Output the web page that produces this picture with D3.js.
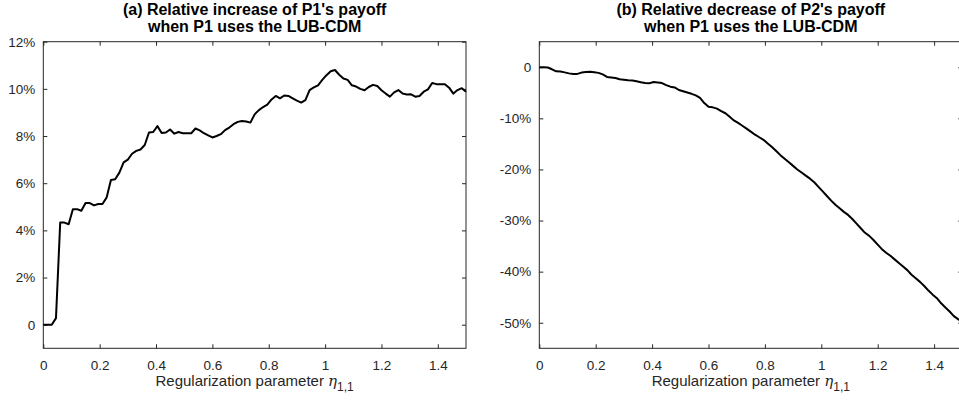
<!DOCTYPE html>
<html>
<head>
<meta charset="utf-8">
<script src="https://cdn.jsdelivr.net/npm/d3@7"></script>
<style>
  body { margin: 0; background: #fff; }
  svg { display: block; font-family: "Liberation Sans", Arial, sans-serif; }
  .tick text { fill: #262626; }
</style>
</head>
<body>
<div id="chart"></div>
<script>
// regularization parameter grid (eta_1,1)
const etaValues = [
  0.000, 0.015, 0.030, 0.045, 0.060, 0.075, 0.090, 0.105, 0.120, 0.135,
  0.150, 0.165, 0.180, 0.195, 0.210, 0.225, 0.240, 0.255, 0.270, 0.285,
  0.300, 0.315, 0.330, 0.345, 0.360, 0.375, 0.390, 0.405, 0.420, 0.435,
  0.450, 0.465, 0.480, 0.495, 0.510, 0.525, 0.540, 0.555, 0.570, 0.585,
  0.600, 0.615, 0.630, 0.645, 0.660, 0.675, 0.690, 0.705, 0.720, 0.735,
  0.750, 0.765, 0.780, 0.795, 0.810, 0.825, 0.840, 0.855, 0.870, 0.885,
  0.900, 0.915, 0.930, 0.945, 0.960, 0.975, 0.990, 1.005, 1.020, 1.035,
  1.050, 1.065, 1.080, 1.095, 1.110, 1.125, 1.140, 1.155, 1.170, 1.185,
  1.200, 1.215, 1.230, 1.245, 1.260, 1.275, 1.290, 1.305, 1.320, 1.335,
  1.350, 1.365, 1.380, 1.395, 1.410, 1.425, 1.440, 1.455, 1.470, 1.485,
  1.500
]

// (a) relative increase of P1's payoff, in %
const p1Increase = [
  0, 0, 0, 0.28, 4.33, 4.33, 4.26, 4.9, 4.9, 4.83,
  5.16, 5.16, 5.06, 5.12, 5.12, 5.4, 6.14, 6.17, 6.45, 6.88,
  7.0, 7.25, 7.37, 7.43, 7.62, 8.15, 8.17, 8.42, 8.13, 8.15,
  8.28, 8.1, 8.17, 8.12, 8.12, 8.12, 8.32, 8.24, 8.12, 8.03,
  7.94, 8.0, 8.08, 8.25, 8.36, 8.5, 8.6, 8.64, 8.62, 8.57,
  8.92, 9.1, 9.23, 9.33, 9.55, 9.7, 9.6, 9.72, 9.7, 9.6,
  9.5, 9.42, 9.52, 9.95, 10.06, 10.15, 10.38, 10.58, 10.75, 10.8,
  10.6, 10.44, 10.38, 10.15, 10.1, 10.0, 9.94, 10.08, 10.17, 10.12,
  9.94, 9.8, 9.67, 9.85, 9.95, 9.8, 9.76, 9.77, 9.67, 9.7,
  9.88, 9.98, 10.25, 10.2, 10.2, 10.2, 10.05, 9.8, 9.95, 10.03,
  9.88
]

// (b) relative decrease of P2's payoff, in %
const p2Decrease = [
  0, 0, -0.05, -0.4, -0.8, -0.85, -1.0, -1.2, -1.3, -1.3,
  -1.05, -0.95, -0.9, -1.0, -1.1, -1.4, -1.9, -2.0, -2.1, -2.35,
  -2.45, -2.55, -2.6, -2.75, -2.95, -3.1, -3.15, -2.9, -3.0, -3.1,
  -3.5, -3.8, -3.95, -4.45, -4.7, -4.95, -5.2, -5.5, -6.0, -7.0,
  -7.75, -7.85, -8.1, -8.6, -9.0, -9.7, -10.4, -10.9, -11.45, -12.0,
  -12.6, -13.2, -13.7, -14.2, -14.9, -15.6, -16.4, -17.2, -17.9, -18.6,
  -19.3, -20.0, -20.6, -21.2, -21.8, -22.5, -23.4, -24.3, -25.2, -26.1,
  -26.9, -27.6, -28.3, -28.9, -29.7, -30.6, -31.5, -32.4, -33.0, -33.8,
  -34.7, -35.6, -36.3, -36.9, -37.6, -38.3, -39.0, -39.7, -40.6, -41.3,
  -42.0, -42.8, -43.7, -44.5, -45.2, -46.2, -47.0, -47.8, -48.7, -49.3,
  -49.8
]

const xTicks = [0, 0.2, 0.4, 0.6, 0.8, 1, 1.2, 1.4]
const p1Ticks = [0, 2, 4, 6, 8, 10, 12]
const p2Ticks = [-50, -40, -30, -20, -10, 0]

const titlesA = ["(a) Relative increase of P1's payoff", "when P1 uses the LUB-CDM"]
const titlesB = ["(b) Relative decrease of P2's payoff", "when P1 uses the LUB-CDM"]

const WIDTH = 959
const HEIGHT = 400
const AXIS_COLOR = "#262626"

const svg = d3.select("#chart").append("svg")
  .attr("width", WIDTH)
  .attr("height", HEIGHT)

svg.append("rect")
  .attr("width", WIDTH)
  .attr("height", HEIGHT)
  .attr("fill", "#fff")

const fmtX = d => d3.format("")(d)
const fmtPct = d => d === 0 ? "0" : `${d}%`

function drawPanel(opts) {
  const g = svg.append("g")
    .attr("transform", `translate(${opts.left}, ${opts.top})`)

  const w = opts.width
  const h = opts.height

  const x = d3.scaleLinear().domain([0, 1.5]).range([0, w])
  const y = d3.scaleLinear().domain(opts.yDomain).range([h, 0])

  // bottom axis, ticks inward
  g.append("g")
    .attr("transform", `translate(0, ${h})`)
    .call(d3.axisBottom(x).tickValues(xTicks).tickFormat(fmtX).tickSize(-4).tickPadding(12).tickSizeOuter(0))
    .call(a => a.select(".domain").remove())
    .call(a => a.selectAll("line").attr("stroke", AXIS_COLOR))
    .call(a => a.selectAll("text").attr("font-size", "13.5px"))

  // top axis (box) ticks
  g.append("g")
    .call(d3.axisTop(x).tickValues(xTicks).tickFormat("").tickSize(-4).tickSizeOuter(0))
    .call(a => a.select(".domain").remove())
    .call(a => a.selectAll("line").attr("stroke", AXIS_COLOR))

  // left axis
  g.append("g")
    .call(d3.axisLeft(y).tickValues(opts.yTicks).tickFormat(fmtPct).tickSize(-4).tickPadding(8).tickSizeOuter(0))
    .call(a => a.select(".domain").remove())
    .call(a => a.selectAll("line").attr("stroke", AXIS_COLOR))
    .call(a => a.selectAll("text").attr("font-size", "13.5px"))

  // right axis ticks
  g.append("g")
    .attr("transform", `translate(${w}, 0)`)
    .call(d3.axisRight(y).tickValues(opts.yTicks).tickFormat("").tickSize(-4).tickSizeOuter(0))
    .call(a => a.select(".domain").remove())
    .call(a => a.selectAll("line").attr("stroke", AXIS_COLOR))

  // box
  g.append("rect")
    .attr("width", w)
    .attr("height", h)
    .attr("fill", "none")
    .attr("stroke", AXIS_COLOR)
    .attr("stroke-width", 1)

  const data = etaValues.map((e, i) => ({ eta: e, value: opts.values[i] }))

  const line = d3.line()
    .x(d => x(d.eta))
    .y(d => y(d.value))

  g.append("path")
    .datum(data)
    .attr("d", line)
    .attr("fill", "none")
    .attr("stroke", "#000")
    .attr("stroke-width", 2)
    .attr("stroke-linejoin", "round")

  // title
  const title = g.append("text")
    .attr("x", w / 2)
    .attr("text-anchor", "middle")
    .attr("font-size", "16px")
    .attr("font-weight", "bold")
    .attr("fill", "#000")
  opts.titles.forEach((t, i) => {
    title.append("tspan")
      .attr("x", w / 2)
      .attr("y", -opts.top + 15 + i * 17)
      .text(t)
  })

  // x label
  const xl = g.append("text")
    .attr("x", w / 2)
    .attr("y", h + 38)
    .attr("text-anchor", "middle")
    .attr("font-size", "15px")
    .attr("fill", AXIS_COLOR)
  xl.append("tspan").text("Regularization parameter ")
  xl.append("tspan")
    .attr("font-family", "'DejaVu Serif', serif")
    .attr("font-style", "italic")
    .text("η")
  xl.append("tspan")
    .attr("font-size", "12px")
    .attr("dy", "5")
    .text("1,1")
}

drawPanel({
  left: 43.3, top: 41.7, width: 422.7, height: 306.6,
  yDomain: [-1, 12], yTicks: p1Ticks, values: p1Increase, titles: titlesA
})

drawPanel({
  left: 539.3, top: 41.7, width: 423, height: 306.6,
  yDomain: [-55, 5], yTicks: p2Ticks, values: p2Decrease, titles: titlesB
})
</script>
</body>
</html>
